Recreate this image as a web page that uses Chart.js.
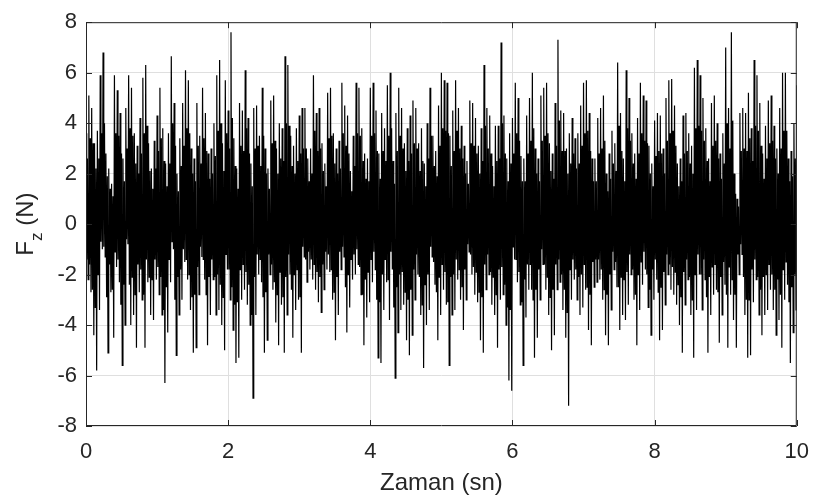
<!DOCTYPE html>
<html lang="tr">
<head>
<meta charset="utf-8">
<title>Fz - Zaman</title>
<script src="https://cdn.jsdelivr.net/npm/chart.js@4.4.1/dist/chart.umd.min.js"></script>
<style>
  html, body { margin: 0; padding: 0; background: #fff; }
  #kutu { width: 822px; height: 500px; }
</style>
</head>
<body>
<div id="kutu"><canvas id="fzGrafik" width="822" height="500"></canvas></div>
<script>
// Fz kuvvet sinyali (0-10 sn).
// Her 0.04 sn'lik dilimde: dış tepe, iç çukur, iç tepe, dış çukur (0.01 sn arayla).
const ornekAdimi = 0.01; // sn

// dış tepeler (sivri uçlar), 2 sn'lik parçalar
const tepe0_2 = [3.6, 5.1, 4.6, 3.2, 3.7, 5.9, 6.8, 2.8, 2.2, 1.6, 5.9, 5.3, 4.4, 2.6, 4.6, 5.9, 5.4, 3.6, 3.1, 4.2,
  5.8, 6.3, 3.2, 2.2, 3.3, 4.3, 5.4, 3.8, 2.4, 3.6, 6.65, 4.8, 2.0, 3.4, 4.8, 6.1, 5.7, 3.0, 2.6, 4.8,
  3.5, 5.4, 4.4, 2.8, 3.0, 4.0, 5.9, 6.5, 3.2, 5.7];
const tepe2_4 = [4.5, 7.6, 3.4, 2.2, 4.8, 4.5, 6.1, 4.2, 2.4, 4.6, 4.7, 3.5, 5.4, 3.0, 2.2, 4.9, 5.1, 3.0, 4.0, 3.8,
  6.65, 6.3, 3.5, 3.1, 3.8, 4.3, 4.6, 4.6, 2.6, 3.0, 5.9, 4.4, 4.6, 3.2, 2.4, 5.2, 5.4, 3.6, 3.0, 3.3,
  5.6, 4.7, 4.3, 2.1, 3.5, 5.6, 5.4, 3.8, 2.8, 2.6];
const tepe4_6 = [5.4, 5.6, 4.5, 2.8, 4.4, 3.8, 5.5, 6.0, 2.5, 4.4, 5.4, 4.6, 3.2, 3.8, 4.3, 4.9, 4.6, 3.2, 3.8, 2.4,
  4.0, 5.4, 3.5, 2.9, 4.7, 6.0, 5.7, 5.6, 3.5, 4.5, 5.7, 4.6, 3.9, 3.1, 2.5, 4.9, 4.8, 4.2, 3.1, 3.8,
  6.3, 4.6, 4.3, 2.3, 3.9, 3.9, 7.2, 4.3, 2.6, 3.6];
const tepe6_8 = [4.2, 5.6, 5.0, 2.7, 2.6, 4.3, 5.0, 6.0, 3.0, 2.6, 5.1, 5.4, 5.6, 3.2, 2.8, 4.8, 7.3, 4.5, 4.4, 3.0,
  3.6, 4.2, 3.4, 3.6, 4.7, 5.6, 5.7, 4.4, 2.6, 2.6, 4.2, 4.6, 5.1, 2.0, 2.8, 3.7, 3.2, 6.4, 4.4, 2.6,
  6.1, 5.0, 3.6, 2.8, 4.2, 5.6, 5.1, 4.9, 3.1, 2.4];
const tepe8_10 = [4.1, 4.4, 4.3, 3.0, 5.0, 5.7, 5.75, 4.7, 2.4, 2.6, 4.3, 4.4, 3.6, 3.1, 6.2, 6.5, 5.9, 5.0, 3.8, 2.6,
  4.8, 5.1, 4.0, 2.8, 3.6, 7.0, 4.6, 7.6, 2.0, 1.0, 4.4, 4.6, 4.4, 5.2, 3.8, 6.5, 5.9, 4.8, 2.8, 3.9,
  4.9, 5.1, 3.9, 3.0, 4.6, 6.0, 6.0, 2.6, 2.9, 4.0, 5.5];

// iç tepeler (koyu bandın üst kenarı)
const icTepe0_2 = [2.6, 3.4, 3.2, 2.2, 2.6, 3.6, 4.0, 1.9, 1.4, 1.1, 3.6, 3.5, 2.8, 1.7, 3.0, 3.8, 3.5, 2.4, 2.0, 2.8,
  3.6, 3.9, 2.1, 1.4, 2.2, 2.9, 3.4, 2.5, 1.5, 2.4, 4.0, 3.1, 1.3, 2.3, 3.1, 3.8, 3.6, 2.0, 1.7, 3.1,
  2.4, 3.4, 2.9, 1.8, 2.0, 2.7, 3.7, 4.0, 2.1, 3.6];
const icTepe2_4 = [3.0, 4.2, 2.3, 1.4, 3.1, 2.9, 3.8, 2.8, 1.5, 3.0, 3.1, 2.3, 3.5, 2.0, 1.4, 3.2, 3.3, 2.0, 2.6, 2.5,
  4.0, 3.9, 2.3, 2.0, 2.5, 2.8, 3.0, 3.0, 1.7, 2.0, 3.7, 2.9, 3.0, 2.1, 1.5, 3.4, 3.5, 2.4, 2.0, 2.2,
  3.6, 3.1, 2.8, 1.3, 2.3, 3.6, 3.5, 2.5, 1.8, 1.7];
const icTepe4_6 = [3.5, 3.6, 2.9, 1.8, 2.9, 2.5, 3.5, 3.8, 1.6, 2.9, 3.5, 3.0, 2.1, 2.5, 2.8, 3.2, 3.0, 2.1, 2.5, 1.5,
  2.6, 3.5, 2.3, 1.9, 3.1, 3.8, 3.7, 3.6, 2.3, 2.9, 3.7, 3.0, 2.6, 2.0, 1.6, 3.2, 3.1, 2.8, 2.0, 2.5,
  3.9, 3.0, 2.8, 1.5, 2.5, 2.6, 4.0, 2.8, 1.7, 2.4];
const icTepe6_8 = [2.8, 3.6, 3.3, 1.7, 1.7, 2.8, 3.3, 3.8, 2.0, 1.7, 3.3, 3.5, 3.6, 2.1, 1.8, 3.1, 4.1, 2.9, 2.9, 2.0,
  2.4, 2.8, 2.2, 2.4, 3.1, 3.6, 3.7, 2.9, 1.7, 1.7, 2.8, 3.0, 3.3, 1.3, 1.8, 2.4, 2.1, 3.9, 2.9, 1.7,
  3.8, 3.3, 2.4, 1.8, 2.8, 3.6, 3.3, 3.2, 2.0, 1.5];
const icTepe8_10 = [2.7, 2.9, 2.8, 2.0, 3.3, 3.6, 3.7, 3.1, 1.5, 1.7, 2.8, 2.9, 2.4, 2.0, 3.8, 3.9, 3.7, 3.3, 2.5, 1.7,
  3.1, 3.3, 2.6, 1.8, 2.4, 4.0, 3.0, 4.1, 1.2, 0.7, 2.9, 3.0, 2.9, 3.4, 2.5, 3.9, 3.7, 3.1, 1.8, 2.6,
  3.2, 3.3, 2.6, 2.0, 3.0, 3.7, 3.7, 1.7, 1.9, 2.6];

// iç çukurlar (koyu bandın alt kenarı)
const icCukur0_2 = [-1.4, -1.6, -2.6, -3.3, -2.0, -0.7, -0.9, -2.9, -1.6, -2.6, -1.1, -1.4, -3.2, -2.4, -0.6, -2.4, -2.1, -2.8, -1.6, -1.8,
  -2.8, -1.4, -2.1, -2.2, -1.4, -1.7, -2.1, -3.4, -2.5, -1.4, -0.7, -3.0, -2.1, -1.8, -1.0, -1.4, -2.0, -2.9, -2.8, -1.7,
  -0.9, -1.4, -2.8, -2.1, -1.4, -2.1, -2.0, -2.4, -2.9, -1.2];
const icCukur2_4 = [-1.8, -2.5, -3.2, -3.1, -1.8, -1.6, -1.9, -2.4, -3.6, -2.1, -1.2, -1.4, -2.9, -2.7, -1.2, -1.6, -2.3, -2.8, -1.9, -2.9,
  -2.1, -1.2, -2.6, -2.0, -1.8, -2.9, -0.9, -1.4, -1.1, -1.4, -1.6, -1.9, -2.1, -1.6, -1.1, -1.2, -1.8, -2.7, -2.1, -1.1,
  -0.9, -2.5, -2.0, -1.4, -1.2, -1.0, -1.7, -2.8, -2.2, -1.9];
const icCukur4_6 = [-1.4, -1.1, -3.0, -3.1, -2.0, -1.4, -2.2, -1.1, -3.3, -2.5, -2.0, -1.9, -2.7, -3.0, -2.6, -1.8, -1.2, -2.1, -3.2, -2.4,
  -2.0, -0.9, -1.5, -2.7, -2.1, -1.6, -1.9, -3.1, -2.1, -2.0, -1.4, -1.8, -2.5, -1.8, -0.8, -1.2, -1.7, -1.9, -2.7, -2.9,
  -1.6, -1.2, -1.9, -2.1, -2.8, -1.8, -1.7, -2.4, -3.3, -3.4];
const icCukur6_8 = [-0.9, -1.4, -1.9, -3.1, -2.2, -1.6, -1.6, -3.0, -2.6, -1.8, -1.0, -1.6, -2.1, -2.9, -2.6, -1.6, -1.4, -2.0, -2.6, -3.5,
  -1.8, -1.4, -1.8, -2.1, -2.0, -1.6, -2.5, -2.8, -1.5, -1.4, -1.4, -1.8, -2.6, -2.8, -2.0, -1.1, -1.5, -2.5, -2.1, -2.2,
  -1.9, -1.2, -1.8, -2.8, -2.0, -1.5, -1.1, -2.0, -2.6, -1.8];
const icCukur8_10 = [-1.4, -2.7, -2.5, -1.9, -1.2, -1.6, -1.7, -1.9, -2.4, -2.9, -1.9, -1.4, -2.1, -3.0, -2.0, -1.2, -2.0, -1.4, -2.9, -2.1,
  -1.7, -1.6, -2.7, -2.1, -1.5, -2.8, -1.7, -2.2, -2.8, -1.2, -0.8, -2.1, -3.0, -3.0, -1.8, -1.4, -2.1, -2.6, -2.1, -2.0,
  -1.6, -2.0, -2.6, -2.2, -2.8, -1.8, -1.5, -3.1, -2.5, -2.0];

// dış çukurlar (aşağı sivri uçlar)
const cukur0_2 = [-2.2, -2.7, -4.4, -5.8, -3.4, -1.0, -1.3, -5.1, -2.7, -4.5, -1.7, -2.3, -5.6, -4.0, -0.8, -4.0, -3.6, -4.9, -2.7, -3.0,
  -4.9, -2.3, -3.6, -3.8, -2.2, -2.8, -3.6, -6.3, -4.3, -2.3, -1.0, -5.2, -3.6, -3.0, -1.5, -2.2, -3.4, -5.1, -4.9, -2.8,
  -1.3, -2.2, -4.8, -3.6, -2.2, -3.6, -3.4, -4.0, -5.0, -1.8];
const cukur2_4 = [-3.0, -4.2, -5.5, -5.3, -3.0, -2.6, -3.2, -4.0, -6.9, -3.6, -2.0, -2.3, -5.1, -4.6, -2.0, -2.6, -3.9, -4.8, -3.2, -5.1,
  -3.6, -2.0, -4.5, -3.4, -3.0, -5.1, -1.3, -2.3, -1.8, -2.2, -2.6, -3.1, -3.5, -2.6, -1.8, -1.9, -3.0, -4.6, -3.6, -1.8,
  -1.3, -4.3, -3.3, -2.2, -2.0, -1.6, -2.8, -4.8, -3.7, -3.1];
const cukur4_6 = [-2.3, -1.8, -5.3, -5.5, -3.4, -2.3, -3.8, -1.8, -6.1, -4.3, -3.4, -3.2, -4.6, -5.2, -4.4, -3.0, -2.0, -3.6, -5.7, -4.0,
  -3.4, -1.3, -2.4, -4.6, -3.6, -2.6, -3.2, -5.6, -3.6, -3.4, -2.2, -3.0, -4.2, -3.0, -1.1, -2.0, -2.8, -3.1, -4.6, -5.1,
  -2.6, -2.0, -3.2, -3.6, -4.9, -3.0, -2.8, -4.0, -6.2, -6.6];
const cukur6_8 = [-1.4, -2.3, -3.2, -5.6, -3.7, -2.6, -2.6, -5.3, -4.5, -3.0, -1.6, -2.6, -3.6, -5.0, -4.4, -2.6, -2.3, -3.4, -4.5, -7.2,
  -3.0, -2.2, -3.0, -3.6, -3.3, -2.6, -4.2, -4.8, -2.5, -2.3, -2.2, -3.0, -4.4, -4.8, -3.4, -1.8, -2.5, -4.2, -3.6, -3.8,
  -3.2, -2.0, -3.0, -4.8, -3.4, -2.4, -1.8, -3.3, -4.4, -3.0];
const cukur8_10 = [-2.2, -4.6, -4.2, -3.2, -2.0, -2.6, -2.8, -3.2, -4.0, -5.1, -3.2, -2.2, -3.6, -5.3, -3.4, -2.0, -3.4, -2.2, -5.1, -3.6,
  -2.8, -2.6, -4.7, -3.6, -2.4, -4.9, -2.8, -3.8, -4.9, -2.0, -1.2, -3.6, -5.3, -5.2, -3.1, -2.2, -3.6, -4.4, -3.6, -3.4,
  -2.6, -3.4, -4.4, -3.8, -4.9, -3.0, -2.4, -5.5, -4.3, -3.4];

const xTicks = [0, 2, 4, 6, 8, 10];
const yTicks = [-8, -6, -4, -2, 0, 2, 4, 6, 8];

const tepeler = [].concat(tepe0_2, tepe2_4, tepe4_6, tepe6_8, tepe8_10);
const icTepeler = [].concat(icTepe0_2, icTepe2_4, icTepe4_6, icTepe6_8, icTepe8_10);
const icCukurlar = [].concat(icCukur0_2, icCukur2_4, icCukur4_6, icCukur6_8, icCukur8_10);
const cukurlar = [].concat(cukur0_2, cukur2_4, cukur4_6, cukur6_8, cukur8_10);

// dilim dilim nokta listesi
const noktalar = [];
for (let i = 0; i < tepeler.length; i++) {
  const t0 = 4 * i * ornekAdimi;
  noktalar.push({ x: t0, y: tepeler[i] });
  if (i < cukurlar.length) {
    noktalar.push({ x: t0 + ornekAdimi, y: icCukurlar[i] });
    noktalar.push({ x: t0 + 2 * ornekAdimi, y: icTepeler[i] });
    noktalar.push({ x: t0 + 3 * ornekAdimi, y: cukurlar[i] });
  }
}

const yaziTipi = '"Liberation Sans", Arial, Helvetica, sans-serif';
const yaziRengi = '#262626';

// MATLAB tarzı kutu ve içe bakan tik çizgileri
const cercevePlugin = {
  id: 'cerceve',
  afterDatasetsDraw(chart) {
    const { ctx, chartArea: a } = chart;
    const sx = chart.scales.x, sy = chart.scales.y;
    const tikBoyu = 6;
    ctx.save();
    ctx.strokeStyle = yaziRengi;
    ctx.lineWidth = 1;
    ctx.beginPath();
    ctx.rect(a.left + 0.5, a.top + 0.5, a.right - a.left - 1, a.bottom - a.top - 1);
    xTicks.forEach(v => {
      const px = Math.round(sx.getPixelForValue(v)) + 0.5;
      ctx.moveTo(px, a.bottom); ctx.lineTo(px, a.bottom - tikBoyu);
      ctx.moveTo(px, a.top); ctx.lineTo(px, a.top + tikBoyu);
    });
    yTicks.forEach(v => {
      const py = Math.round(sy.getPixelForValue(v)) + 0.5;
      ctx.moveTo(a.left, py); ctx.lineTo(a.left + tikBoyu, py);
      ctx.moveTo(a.right, py); ctx.lineTo(a.right - tikBoyu, py);
    });
    ctx.stroke();
    ctx.restore();
  }
};

// y ekseni başlığı: F alt indis z (N)
const yBaslikPlugin = {
  id: 'yBaslik',
  afterDraw(chart) {
    const { ctx, chartArea: a } = chart;
    const buyuk = '24px ' + yaziTipi, kucuk = '17px ' + yaziTipi;
    ctx.save();
    ctx.translate(33, (a.top + a.bottom) / 2);
    ctx.rotate(-Math.PI / 2);
    ctx.fillStyle = yaziRengi;
    ctx.textBaseline = 'alphabetic';
    ctx.textAlign = 'left';
    ctx.font = buyuk;
    const wF = ctx.measureText('F').width;
    const wR = ctx.measureText(' (N)').width;
    ctx.font = kucuk;
    const wz = ctx.measureText('z').width;
    let bas = -(wF + wz + wR) / 2;
    ctx.font = buyuk; ctx.fillText('F', bas, 0); bas += wF;
    ctx.font = kucuk; ctx.fillText('z', bas, 9); bas += wz;
    ctx.font = buyuk; ctx.fillText(' (N)', bas, 0);
    ctx.restore();
  }
};

new Chart(document.getElementById('fzGrafik'), {
  type: 'line',
  data: {
    datasets: [{
      label: 'Fz',
      data: noktalar,
      borderColor: '#000000',
      borderWidth: 1.2,
      borderJoinStyle: 'miter',
      pointRadius: 0,
      tension: 0,
      fill: false
    }]
  },
  options: {
    responsive: false,
    animation: false,
    parsing: false,
    normalized: true,
    events: [],
    layout: { padding: { top: 17, right: 14, left: 0, bottom: 0 } },
    plugins: {
      legend: { display: false },
      tooltip: { enabled: false }
    },
    scales: {
      x: {
        type: 'linear',
        min: 0,
        max: 10,
        afterFit: s => { s.height = 74; },
        afterBuildTicks: s => { s.ticks = xTicks.map(v => ({ value: v })); },
        grid: { color: '#dfdfdf', drawTicks: false },
        border: { display: false },
        ticks: {
          padding: 13,
          maxRotation: 0,
          autoSkip: false,
          color: yaziRengi,
          font: { family: yaziTipi, size: 22 }
        },
        title: {
          display: true,
          text: 'Zaman (sn)',
          color: yaziRengi,
          font: { family: yaziTipi, size: 24 },
          padding: { top: 0, bottom: 2 }
        }
      },
      y: {
        type: 'linear',
        min: -8,
        max: 8,
        afterFit: s => { s.width = 86; },
        afterBuildTicks: s => { s.ticks = yTicks.map(v => ({ value: v })); },
        grid: { color: '#dfdfdf', drawTicks: false },
        border: { display: false },
        ticks: {
          padding: 9,
          autoSkip: false,
          color: yaziRengi,
          font: { family: yaziTipi, size: 22 }
        }
      }
    }
  },
  plugins: [cercevePlugin, yBaslikPlugin]
});
</script>
</body>
</html>
